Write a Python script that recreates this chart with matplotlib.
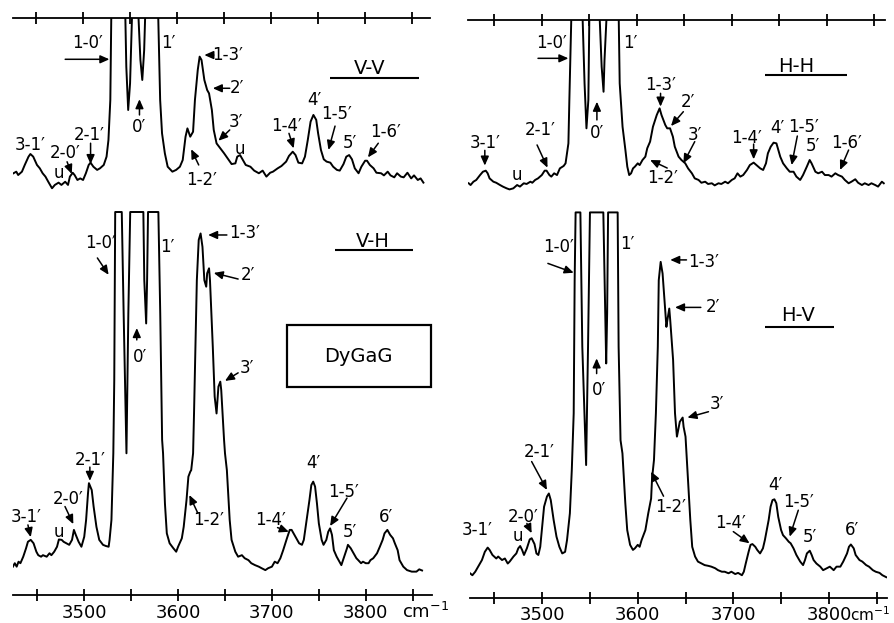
import matplotlib
matplotlib.use('Agg')
import matplotlib.pyplot as plt
from matplotlib.patches import Rectangle

plt.rcParams.update({'font.family': 'DejaVu Sans', 'font.size': 12})

# Raman spectra of DyGaG, wavenumber (cm-1) vs intensity (arb. units, 100 = top of scale)
vv_cm = [3426, 3429, 3431, 3435, 3438, 3442, 3444, 3447, 3451, 3454, 3457, 3460, 3463, 3467, 3470,
         3474, 3477, 3481, 3484, 3486, 3489, 3491, 3494, 3497, 3500, 3503, 3506, 3508, 3511, 3515,
         3518, 3522, 3525, 3527, 3529, 3530, 3532, 3543, 3545, 3546, 3548, 3550, 3552, 3554, 3558,
         3559, 3561, 3563, 3565, 3566, 3568, 3578, 3580, 3582, 3584, 3587, 3590, 3595, 3599, 3603,
         3606, 3609, 3611, 3614, 3617, 3619, 3622, 3624, 3626, 3629, 3632, 3634, 3637, 3639, 3642,
         3646, 3650, 3655, 3658, 3662, 3664, 3667, 3670, 3673, 3678, 3682, 3687, 3691, 3695, 3699,
         3702, 3707, 3711, 3716, 3719, 3723, 3726, 3729, 3733, 3736, 3739, 3742, 3745, 3748, 3750,
         3753, 3756, 3759, 3763, 3766, 3770, 3773, 3777, 3780, 3783, 3786, 3789, 3793, 3796, 3800,
         3802, 3805, 3809, 3812, 3817, 3820, 3824, 3827, 3831, 3834, 3838, 3841, 3845, 3849, 3852,
         3856, 3859, 3862]
vv_int = [12.3, 13.2, 11.3, 13.2, 17.0, 21.7, 23.2, 21.7, 17.0, 15.1, 12.3, 10.4, 7.5, 3.8, 5.7,
          7.0, 5.7, 7.5, 5.7, 10.4, 12.6, 11.3, 8.5, 9.4, 8.5, 12.3, 17.0, 18.3, 16.0, 14.2,
          15.1, 17.0, 21.7, 31.1, 53.8, 100, 130, 130, 100, 72.6, 48.1, 63.2, 100, 130, 130,
          100, 76.4, 65.1, 82.0, 100, 130, 130, 100, 53.8, 34.9, 23.6, 16.0, 13.2, 14.2, 16.0,
          19.8, 33.0, 37.7, 33.0, 35.8, 53.8, 70.8, 78.3, 76.4, 65.1, 59.4, 57.5, 48.1, 36.8, 29.2,
          26.4, 23.6, 19.8, 17.5, 17.9, 21.7, 22.6, 19.8, 17.0, 16.0, 13.8, 12.3, 13.8, 10.4, 12.6,
          13.2, 15.1, 16.4, 18.9, 22.1, 24.5, 22.6, 18.3, 17.9, 21.7, 31.1, 41.5, 45.3, 42.5, 34.9,
          25.5, 20.2, 18.9, 18.3, 16.0, 14.2, 13.8, 17.5, 21.7, 22.6, 20.2, 15.1, 12.3, 16.0, 19.4,
          19.4, 17.0, 15.1, 12.6, 12.3, 11.1, 13.2, 11.1, 10.0, 12.3, 10.4, 10.0, 12.6, 9.4, 11.1,
          8.5, 9.4, 7.0]

hh_cm = [3423, 3425, 3428, 3431, 3435, 3438, 3441, 3443, 3445, 3449, 3452, 3456, 3459, 3463, 3466,
         3470, 3474, 3477, 3481, 3484, 3488, 3490, 3493, 3496, 3500, 3503, 3505, 3508, 3510, 3513,
         3516, 3519, 3523, 3525, 3528, 3529, 3531, 3532, 3542, 3543, 3545, 3547, 3549, 3550, 3552,
         3560, 3561, 3563, 3565, 3566, 3568, 3569, 3579, 3581, 3582, 3585, 3588, 3590, 3592, 3594,
         3596, 3598, 3601, 3603, 3606, 3609, 3611, 3614, 3617, 3621, 3624, 3626, 3630, 3632, 3635,
         3638, 3640, 3644, 3647, 3651, 3654, 3658, 3661, 3665, 3668, 3672, 3675, 3679, 3682, 3686,
         3689, 3693, 3696, 3700, 3703, 3706, 3709, 3712, 3716, 3719, 3723, 3726, 3730, 3733, 3736,
         3738, 3741, 3744, 3747, 3749, 3751, 3754, 3758, 3761, 3765, 3768, 3772, 3775, 3779, 3782,
         3784, 3788, 3791, 3795, 3798, 3802, 3805, 3809, 3812, 3816, 3819, 3823, 3826, 3830, 3833,
         3837, 3840, 3844, 3847, 3851, 3854, 3858, 3860]
hh_int = [6.7, 5.7, 7.6, 8.6, 11.4, 13.3, 13.9, 12.4, 9.5, 7.6, 7.0, 5.7, 4.8, 3.8, 3.2,
          3.8, 5.7, 4.8, 6.7, 6.3, 7.6, 7.0, 8.6, 9.5, 11.4, 13.9, 13.9, 11.4, 10.5, 12.4,
          11.4, 15.2, 16.6, 18.1, 29.5, 54.3, 100, 130, 130, 100, 63.8, 38.1, 54.3, 100, 130,
          130, 100, 73.3, 59.0, 77.1, 100, 130, 130, 100, 63.8, 39.0, 25.7, 16.2, 11.4, 12.4,
          15.2, 16.2, 18.1, 17.1, 20.0, 21.9, 26.7, 30.5, 39.0, 45.7, 49.5, 45.7, 40.0, 38.1, 38.1,
          33.3, 27.6, 21.9, 20.0, 18.1, 15.2, 12.4, 9.5, 8.6, 7.0, 7.6, 6.3, 6.7, 5.5, 6.7,
          6.3, 7.6, 6.7, 8.6, 9.5, 12.4, 10.5, 11.4, 14.3, 17.1, 18.5, 17.1, 15.2, 14.3, 18.1,
          23.8, 27.6, 29.9, 29.5, 25.7, 21.9, 18.1, 15.2, 13.3, 13.3, 10.5, 8.6, 11.4, 16.2, 20.0,
          18.1, 13.3, 12.4, 13.3, 11.4, 11.4, 10.5, 12.4, 11.4, 10.5, 8.6, 6.7, 7.6, 9.0, 7.0,
          5.7, 6.7, 5.7, 6.7, 5.7, 4.8, 7.6, 6.7]

vh_cm = [3424, 3426, 3428, 3430, 3432, 3435, 3438, 3440, 3443, 3446, 3449, 3451, 3454, 3456, 3460,
         3463, 3465, 3468, 3471, 3473, 3476, 3478, 3481, 3484, 3487, 3489, 3491, 3494, 3497, 3500,
         3502, 3504, 3505, 3508, 3510, 3513, 3516, 3520, 3523, 3526, 3527, 3529, 3531, 3532, 3533,
         3540, 3542, 3545, 3547, 3549, 3563, 3564, 3566, 3567, 3568, 3579, 3581, 3583, 3584, 3586,
         3588, 3591, 3595, 3598, 3600, 3604, 3606, 3609, 3611, 3613, 3614, 3616, 3617, 3620, 3622,
         3624, 3626, 3628, 3630, 3631, 3633, 3634, 3637, 3639, 3641, 3643, 3645, 3646, 3649, 3650,
         3652, 3655, 3657, 3661, 3664, 3668, 3671, 3675, 3678, 3682, 3686, 3689, 3693, 3696, 3700,
         3703, 3706, 3709, 3712, 3716, 3719, 3721, 3724, 3726, 3729, 3732, 3734, 3737, 3740, 3742,
         3744, 3746, 3748, 3750, 3753, 3755, 3758, 3760, 3762, 3764, 3766, 3769, 3772, 3774, 3777,
         3780, 3781, 3784, 3787, 3790, 3792, 3795, 3797, 3800, 3803, 3805, 3808, 3812, 3815, 3818,
         3820, 3823, 3826, 3829, 3831, 3834, 3836, 3840, 3844, 3849, 3854, 3857, 3860]
vh_int = [7.4, 8.3, 7.4, 8.7, 8.3, 10.0, 12.2, 13.9, 14.4, 13.5, 11.3, 10.4, 10.0, 10.4, 10.0,
          10.9, 10.4, 11.3, 12.6, 14.5, 14.4, 13.9, 13.5, 13.1, 14.4, 17.0, 15.7, 13.9, 12.6, 15.2,
          19.6, 26.5, 29.2, 27.4, 23.1, 17.8, 14.4, 13.1, 12.8, 12.6, 14.4, 19.6, 37.0, 56.1, 100,
          100, 73.5, 37.0, 73.5, 100, 100, 82.2, 70.9, 82.2, 100, 100, 73.5, 40.5, 37.0, 23.9,
          16.1, 13.5, 12.2, 11.3, 12.6, 14.8, 17.8, 24.8, 30.9, 32.2, 32.6, 37.0, 47.4, 82.2, 92.7,
          94.4, 90.9, 82.2, 80.5, 84.0, 85.3, 82.2, 64.8, 51.8, 47.4, 54.4, 55.7, 53.5, 40.5, 37.0,
          32.6, 19.6, 14.4, 11.3, 10.0, 10.4, 9.6, 9.1, 8.3, 7.8, 7.4, 7.0, 6.5, 7.0, 7.4,
          8.7, 8.3, 9.6, 11.7, 14.8, 17.0, 17.0, 15.7, 14.8, 13.5, 13.1, 14.4, 19.6, 24.8, 28.7,
          29.6, 28.3, 23.9, 18.7, 14.4, 13.1, 14.4, 16.5, 17.4, 15.7, 11.7, 10.0, 8.7, 7.8, 10.0,
          12.2, 13.1, 12.2, 10.9, 9.6, 9.1, 8.3, 8.7, 8.3, 8.3, 9.1, 9.6, 10.9, 12.6, 14.4,
          16.1, 17.0, 15.7, 14.8, 13.5, 11.7, 9.1, 7.4, 6.5, 6.1, 6.1, 6.7, 6.4]

hv_cm = [3424.5, 3427, 3430, 3433, 3437, 3440, 3443, 3445, 3448, 3452, 3454, 3458, 3461, 3464, 3466,
         3470, 3473, 3475, 3477, 3479, 3481, 3484, 3487, 3489, 3492, 3494, 3496, 3498, 3500, 3502,
         3505, 3507, 3509, 3512, 3515, 3518, 3521, 3524, 3526, 3529, 3531, 3533, 3534, 3535, 3540,
         3542, 3546, 3548, 3550, 3564, 3566, 3567, 3568, 3569, 3579, 3580, 3582, 3584, 3586, 3587,
         3589, 3592, 3595, 3597, 3600, 3602, 3604, 3608, 3611, 3614, 3615, 3617, 3619, 3621, 3622,
         3624, 3626, 3628, 3630, 3631, 3633, 3634, 3637, 3639, 3641, 3644, 3647, 3648, 3650, 3652,
         3655, 3657, 3660, 3663, 3667, 3670, 3674, 3677, 3681, 3684, 3688, 3691, 3695, 3698, 3702,
         3705, 3709, 3711, 3713, 3716, 3718, 3720, 3723, 3725, 3728, 3731, 3733, 3737, 3739, 3741,
         3743, 3745, 3747, 3750, 3752, 3755, 3758, 3760, 3763, 3766, 3770, 3773, 3775, 3777, 3780,
         3782, 3784, 3787, 3791, 3794, 3798, 3801, 3805, 3808, 3812, 3815, 3819, 3821, 3823, 3826,
         3828, 3832, 3835, 3839, 3842, 3846, 3849, 3853, 3856, 3860]
hv_int = [7.3, 6.8, 7.7, 9.0, 10.7, 12.8, 13.9, 13.3, 12.0, 11.1, 11.6, 10.7, 11.1, 9.8, 10.3,
          11.6, 12.4, 13.7, 14.3, 13.3, 12.0, 13.7, 16.0, 16.3, 14.8, 12.4, 12.0, 14.1, 19.3, 24.4,
          27.0, 27.8, 26.1, 21.0, 16.7, 14.1, 12.4, 12.8, 15.8, 22.7, 33.8, 48.4, 82.6, 100, 100,
          65.5, 35.1, 65.5, 100, 100, 74.1, 61.2, 74.1, 100, 100, 65.5, 41.5, 38.1, 29.5, 25.3,
          18.4, 14.6, 13.3, 13.7, 14.6, 14.1, 15.8, 18.4, 22.7, 26.5, 31.7, 36.4, 48.4, 65.5, 82.6,
          87.3, 84.3, 77.5, 70.6, 72.3, 75.3, 72.3, 62.1, 48.4, 42.4, 46.2, 47.3, 44.9, 42.4, 33.8,
          21.0, 14.1, 11.6, 10.3, 9.8, 9.4, 9.2, 9.0, 8.6, 8.1, 7.7, 7.7, 7.3, 7.7, 7.1,
          7.4, 6.8, 7.7, 9.8, 12.8, 14.6, 14.8, 14.1, 13.3, 12.4, 13.7, 15.8, 21.0, 24.4, 26.1,
          26.3, 25.3, 21.8, 18.4, 17.1, 16.3, 15.4, 15.0, 13.7, 12.0, 10.3, 9.4, 10.7, 12.4, 13.1,
          12.0, 10.7, 9.8, 9.0, 8.1, 8.6, 9.0, 8.1, 9.0, 9.0, 10.3, 12.4, 14.1, 14.7, 13.7,
          12.0, 10.7, 10.3, 9.4, 9.0, 8.1, 7.7, 7.4, 6.8, 6.3]

tick_all = [3450, 3500, 3550, 3600, 3650, 3700, 3750, 3800, 3850]
tick_lab = [3500, 3600, 3700, 3800]
tick_minor = [3450, 3550, 3650, 3750, 3850]

# peak labels: (text, x, y, arrow tail/head or None)
vv_labels = [
    ('3-1′', 3444, 28.3, None),
    ('u', 3474, 12.3, None),
    ('2-0′', 3481, 23.6, (3483, 18.8, 3488, 11.9)),
    ('2-1′', 3507, 34.0, (3508, 29.3, 3508, 17.5)),
    ('1-0′', 3505, 85.9, (3481, 76.8, 3528, 76.8)),
    ('0′', 3560, 38.7, (3560, 45.3, 3560, 54.2)),
    ('1′', 3591, 85.9, None),
    ('1-3′', 3654, 79.2, (3639, 79.2, 3629, 79.2)),
    ('2′', 3664, 60.4, (3656, 60.4, 3638, 60.4)),
    ('3′', 3663, 41.5, (3656, 36.8, 3644, 30.7)),
    ('1-2′', 3626, 8.5, (3623, 17.0, 3615, 25.9)),
    ('u', 3667, 25.9, None),
    ('1-4′', 3716, 39.0, (3719, 34.9, 3724, 26.4)),
    ('4′', 3746, 53.8, None),
    ('1-5′', 3770, 45.8, (3768, 39.0, 3761, 25.5)),
    ('5′', 3784, 29.3, None),
    ('1-6′', 3822, 35.8, (3814, 29.3, 3803, 21.3)),
]
hh_labels = [
    ('3-1′', 3440, 29.5, (3440, 25.5, 3440, 16.8)),
    ('u', 3474, 11.4, None),
    ('2-1′', 3498, 37.1, (3495, 28.6, 3506, 15.6)),
    ('1-0′', 3510, 86.7, (3496, 78.1, 3528, 78.1)),
    ('0′', 3558, 35.2, (3558, 42.9, 3558, 53.3)),
    ('1′', 3593, 87.0, None),
    ('1-3′', 3625, 62.9, (3625, 58.1, 3625, 50.5)),
    ('2′', 3654, 53.3, (3649, 47.6, 3636, 39.4)),
    ('3′', 3661, 34.3, (3661, 30.5, 3649, 18.1)),
    ('1-2′', 3627, 9.7, (3632, 15.4, 3614, 20.0)),
    ('1-4′', 3716, 32.4, (3723, 29.1, 3723, 20.4)),
    ('4′', 3748, 38.3, None),
    ('1-5′', 3776, 38.9, (3769, 33.7, 3763, 17.1)),
    ('5′', 3785, 28.1, None),
    ('1-6′', 3821, 29.5, (3823, 25.7, 3814, 14.3)),
]
vh_labels = [
    ('1-0′', 3517, 91.9, (3514, 88.0, 3526, 83.6)),
    ('0′', 3559, 62.1, (3556, 66.6, 3556, 69.7)),
    ('1′', 3589, 90.9, None),
    ('1-3′', 3671, 94.5, (3652, 94.0, 3632, 94.0)),
    ('2′', 3674, 83.6, (3664, 82.5, 3638, 84.1)),
    ('3′', 3673, 59.3, (3664, 58.0, 3650, 55.9)),
    ('2-1′', 3506, 35.2, (3506, 33.4, 3506, 29.8)),
    ('2-0′', 3483, 25.1, (3479.5, 23.1, 3488.4, 18.5)),
    ('u', 3473, 16.4, None),
    ('3-1′', 3438, 20.4, (3440, 18.3, 3443, 15.1)),
    ('1-2′', 3632, 19.6, (3621, 21.4, 3612, 26.1)),
    ('1-4′', 3698, 19.5, (3706, 17.6, 3718, 16.5)),
    ('4′', 3744, 34.5, None),
    ('1-5′', 3776, 26.9, (3780, 25.3, 3762, 18.0)),
    ('5′', 3783, 16.4, None),
    ('6′', 3822, 20.4, None),
]
hv_labels = [
    ('1-0′', 3517, 91.2, (3506, 86.9, 3533, 84.5)),
    ('0′', 3559, 54.4, (3557, 58.6, 3557, 62.5)),
    ('1′', 3589, 92.0, None),
    ('1-3′', 3669, 87.3, (3651, 87.8, 3634, 87.8)),
    ('2′', 3679, 75.8, (3666, 75.6, 3639, 75.6)),
    ('3′', 3683, 50.9, (3674, 48.8, 3652, 47.3)),
    ('2-1′', 3497, 38.5, (3489, 36.0, 3505, 28.7)),
    ('2-0′', 3480, 21.8, (3484, 20.1, 3489, 17.6)),
    ('u', 3475, 16.9, None),
    ('3-1′', 3432, 18.4, None),
    ('1-2′', 3634, 24.4, (3627, 27.1, 3614, 33.4)),
    ('1-4′', 3697, 20.1, (3700, 18.0, 3717, 15.0)),
    ('4′', 3744, 30.0, None),
    ('1-5′', 3768, 25.7, (3768, 23.5, 3759, 16.7)),
    ('5′', 3780, 16.7, None),
    ('6′', 3824, 18.4, None),
]

fig = plt.figure(figsize=(8.95, 6.23), dpi=100)


def panel(rect, xlim, ylim, cm, inten, top):
    ax = fig.add_axes(rect)
    ax.patch.set_visible(False)
    ax.plot(cm, inten, color='k', lw=1.4)
    ax.set_xlim(*xlim)
    ax.set_ylim(*ylim)
    ax.set_yticks([])
    ax.spines['left'].set_visible(False)
    ax.spines['right'].set_visible(False)
    if top:
        ax.spines['bottom'].set_visible(False)
        ax.xaxis.tick_top()
        ax.set_xticks(tick_all)
        ax.set_xticklabels([])
        ax.spines['top'].set_linewidth(1.3)
    else:
        ax.spines['top'].set_visible(False)
        ax.set_xticks(tick_lab)
        ax.set_xticklabels([str(t) for t in tick_lab])
        ax.set_xticks(tick_minor, minor=True)
        ax.spines['bottom'].set_linewidth(1.3)
    ax.tick_params(axis='x', which='both', direction='inout', length=8.5, width=1.3,
                   pad=2, labelsize=13)
    return ax


def add_labels(ax, specs):
    for text, tx, ty, arr in specs:
        ax.text(tx, ty, text, ha='center', va='center', fontsize=12)
        if arr:
            ax.annotate('', xy=(arr[2], arr[3]), xytext=(arr[0], arr[1]),
                        arrowprops=dict(arrowstyle='-|>,head_length=0.45,head_width=0.2',
                                        color='k', lw=1.1, shrinkA=0, shrinkB=0))


def add_title(ax, text, x, y, y_line, x1, x2):
    ax.text(x, y, text, ha='center', va='center', fontsize=14)
    ax.hlines(y_line, x1, x2, color='k', lw=1.5)


# V-V (top left)
ax1 = panel([0.01453, 0.68700, 0.46592, 0.28363], (3425.5, 3869), (0, 100), vv_cm, vv_int, True)
add_labels(ax1, vv_labels)
add_title(ax1, 'V-V', 3805, 71.7, 66.0, 3763, 3857)

# H-H (top right)
ax2 = panel([0.52291, 0.68700, 0.46592, 0.28090], (3422.3, 3861.3), (0, 100), hh_cm, hh_int, True)
add_labels(ax2, hh_labels)
add_title(ax2, 'H-H', 3768, 73.3, 68.6, 3735, 3821)

# V-H (bottom left)
ax3 = panel([0.01453, 0.04494, 0.46816, 0.73034], (3424.1, 3870.6), (0, 118.8), vh_cm, vh_int, False)
add_labels(ax3, vh_labels)
add_title(ax3, 'V-H', 3808, 92.2, 90.1, 3767, 3850)
ax3.add_patch(Rectangle((3716, 54.3), 153, 16.2, fill=False, ec='k', lw=1.6, clip_on=False))
ax3.text(3792, 62.4, 'DyGaG', ha='center', va='center', fontsize=14)
ax3.annotate('cm$^{-1}$', xy=(3800, 0), xycoords=('data', 'axes fraction'),
             xytext=(36, -17), textcoords='offset pixels', ha='left', va='center', fontsize=13)

# H-V (bottom right)
ax4 = panel([0.52514, 0.04045, 0.46559, 0.73483], (3424.5, 3860.5), (1, 118.6), hv_cm, hv_int, False)
add_labels(ax4, hv_labels)
add_title(ax4, 'H-V', 3768, 73.6, 70.6, 3733, 3805)
ax4.annotate('cm$^{-1}$', xy=(3800, 0), xycoords=('data', 'axes fraction'),
             xytext=(21, -17), textcoords='offset pixels', ha='left', va='center', fontsize=11)

fig.savefig('out.png', dpi=100)
